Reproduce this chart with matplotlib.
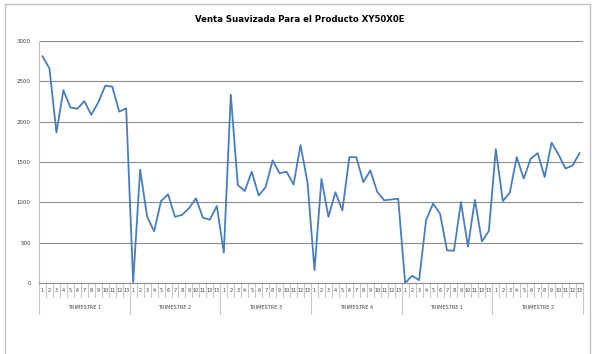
import matplotlib.pyplot as plt
from matplotlib.patches import Rectangle
from matplotlib.transforms import blended_transform_factory

# ventas suavizadas por semana, 13 semanas por trimestre
trimestres = ["TRIMESTRE 1", "TRIMESTRE 2", "TRIMESTRE 3", "TRIMESTRE 4", "TRIMESTRE 1", "TRIMESTRE 2"]
semanas = [str(i) for i in range(1, 14)]

t1 = [2810, 2660, 1865, 2390, 2175, 2160, 2255, 2085, 2240, 2445, 2435, 2125, 2165]
t2 = [10, 1405, 825, 640, 1015, 1100, 820, 845, 925, 1050, 810, 785, 955]
t3 = [375, 2335, 1215, 1140, 1380, 1085, 1190, 1520, 1360, 1380, 1220, 1710, 1245]
t4 = [160, 1290, 820, 1125, 900, 1560, 1560, 1250, 1395, 1130, 1025, 1035, 1045]
t5 = [0, 90, 35, 780, 985, 860, 405, 400, 1005, 450, 1030, 515, 645]
t6 = [1660, 1015, 1120, 1560, 1295, 1540, 1610, 1315, 1740, 1590, 1420, 1455, 1610]

ventas = t1 + t2 + t3 + t4 + t5 + t6
n = len(ventas)
x = [i + 0.5 for i in range(n)]

plt.rcParams['font.family'] = ['DejaVu Sans']
plt.rcParams['font.stretch'] = 'condensed'

fig = plt.figure(figsize=(5.92, 3.54), dpi=100)
ax = fig.add_axes([39 / 592, 71 / 354, 544 / 592, 242 / 354])

# marco del grafico
fig.patches.append(Rectangle((4.5 / 592, -0.1), 585 / 592, 1.1 - 4.5 / 354,
                             transform=fig.transFigure, fill=False,
                             edgecolor='#c0c0c0', linewidth=1.0))

ax.plot(x, ventas, color='#4a7ebb', linewidth=1.3, zorder=3)

ax.set_xlim(0, n)
ax.set_ylim(0, 3000)
ax.set_yticks(range(0, 3001, 500))
ax.tick_params(axis='y', length=0, labelsize=4.3, pad=6, labelcolor='#404040')
ax.set_xticks([])
ax.yaxis.grid(True, color='#8c8c8c', linewidth=0.8)
ax.set_axisbelow(True)
for s in ['top', 'right']:
    ax.spines[s].set_visible(False)
ax.spines['left'].set_color('#bfbfbf')
ax.spines['bottom'].set_color('#8c8c8c')
ax.spines['bottom'].set_linewidth(0.8)

# eje de categorias de dos niveles
tr = blended_transform_factory(ax.transData, ax.transAxes)
for i in range(n + 1):
    largo = -0.13 if i % 13 == 0 else -0.058
    ax.plot([i, i], [0, largo], transform=tr, color='#c8c8c8',
            linewidth=0.8, clip_on=False)
for i in range(n):
    ax.text(i + 0.5, -0.03, semanas[i % 13], transform=tr, ha='center',
            va='center', fontsize=4.0, color='#404040')
for g, nombre in enumerate(trimestres):
    ax.text(g * 13 + 6.5, -0.1, nombre, transform=tr, ha='center',
            va='center', fontsize=4.0, color='#404040')

fig.text(0.507, 1 - 20 / 354, "Venta Suavizada Para el Producto XY50X0E",
         ha='center', va='center', fontsize=6.8, fontweight='bold')

fig.savefig('out.png', dpi=100)
